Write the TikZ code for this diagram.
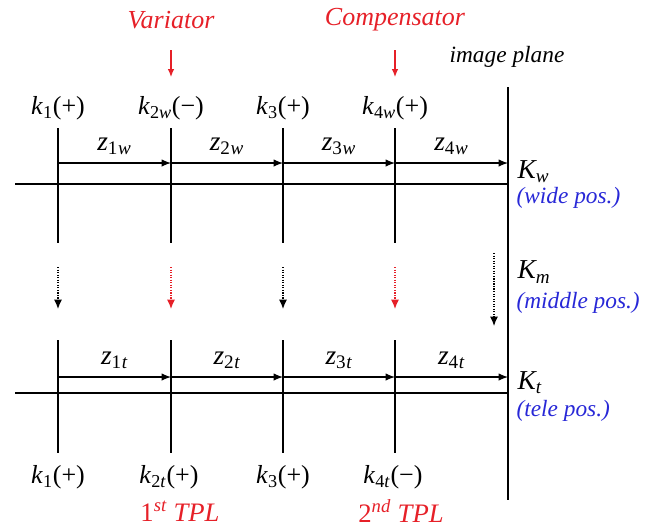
\documentclass[tikz,border=0pt]{standalone}
\usepackage{fontspec}
\setmainfont{Liberation Serif}
\newfontfamily\tnr{Liberation Serif}
\usetikzlibrary{arrows.meta, positioning}
\definecolor{tred}{RGB}{230,32,40}
\definecolor{tblue}{RGB}{40,40,215}
\newcommand{\lsub}[1]{\textsubscript{#1}}

\begin{document}
\begin{tikzpicture}[x=0.75pt, y=-0.75pt,
  lbl/.style={font=\tnr\fontsize{17.5}{19}\selectfont\itshape, inner sep=1pt},
  uplbl/.style={lbl, font=\tnr\fontsize{19.5}{21}\selectfont},
  biglbl/.style={lbl, font=\tnr\fontsize{20.5}{22}\selectfont\itshape},
  poslbl/.style={lbl, text=tblue, anchor=west},
  redlbl/.style={lbl, text=tred, font=\tnr\fontsize{19.5}{21}\selectfont\itshape},
  lens/.style={line width=0.9pt},
  zarr/.style={-{Latex[length=7pt,width=5.5pt]}, line width=0.9pt},
  moveblk/.style={-{Latex[length=7pt,width=6pt]}, densely dotted, line width=0.9pt},
  movered/.style={moveblk, draw=tred, -{Latex[length=7pt,width=6pt,fill=tred]}},
  redarr/.style={-{Latex[length=6pt,width=5pt]}, draw=tred, line width=0.9pt}
]
  \useasboundingbox (0,0) rectangle (659,529);

  % group names and image plane
  \node[redlbl] (var) at (171,20) {Variator};
  \node[redlbl] (com) at (395,20) {Compensator};
  \coordinate (vartip) at (171,77);
  \coordinate (comtip) at (395,77);
  \draw[redarr] (171,50) -- (vartip);
  \draw[redarr] (395,50) -- (comtip);
  \node[lbl] (ipl) at (507,57) {image plane};
  \draw[lens] (508,87) -- (508,500);

  % wide position
  \node[uplbl] (k1w) at (58,108) {\textit{k}\lsub{1}(+)};
  \node[uplbl] (k2w) at (171,108) {\textit{k}\lsub{2\textit{w}}(−)};
  \node[uplbl] (k3w) at (283,108) {\textit{k}\lsub{3}(+)};
  \node[uplbl] (k4w) at (395,108) {\textit{k}\lsub{4\textit{w}}(+)};
  \draw[lens] (58,128) -- (58,243);
  \draw[lens] (171,128) -- (171,243);
  \draw[lens] (283,128) -- (283,243);
  \draw[lens] (395,128) -- (395,243);
  \draw[lens] (15,184) -- (508,184);
  \coordinate (w1) at (58,163);
  \coordinate (w2) at (171,163);
  \coordinate (w3) at (283,163);
  \coordinate (w4) at (395,163);
  \coordinate (w5) at (508,163);
  \draw[zarr] (w1) -- (w2) node[biglbl, midway, above=5pt] (z1w) {z\lsub{\upshape 1}\lsub{w}};
  \draw[zarr] (w2) -- (w3) node[biglbl, midway, above=5pt] (z2w) {z\lsub{\upshape 2}\lsub{w}};
  \draw[zarr] (w3) -- (w4) node[biglbl, midway, above=5pt] (z3w) {z\lsub{\upshape 3}\lsub{w}};
  \draw[zarr] (w4) -- (w5) node[biglbl, midway, above=5pt] (z4w) {z\lsub{\upshape 4}\lsub{w}};
  \node[biglbl, anchor=west] (Kw) at (516,172) {K\lsub{w}};
  \node[poslbl] (wide) at (515,198) {(wide pos.)};

  % middle position
  \draw[moveblk] (58,267) -- (58,309);
  \draw[movered] (171,267) -- (171,309);
  \draw[moveblk] (283,267) -- (283,309);
  \draw[movered] (395,267) -- (395,309);
  \draw[moveblk] (494,253) -- (494,326);
  \node[biglbl, anchor=west] (Km) at (516,272) {K\lsub{m}};
  \node[poslbl] (middle) at (515,303) {(middle pos.)};

  % tele position
  \draw[lens] (58,340) -- (58,453);
  \draw[lens] (171,340) -- (171,453);
  \draw[lens] (283,340) -- (283,453);
  \draw[lens] (395,340) -- (395,453);
  \draw[lens] (15,393) -- (508,393);
  \coordinate (t1) at (58,377);
  \coordinate (t2) at (171,377);
  \coordinate (t3) at (283,377);
  \coordinate (t4) at (395,377);
  \coordinate (t5) at (508,377);
  \draw[zarr] (t1) -- (t2) node[biglbl, midway, above=5pt] (z1t) {z\lsub{\upshape 1}\lsub{t}};
  \draw[zarr] (t2) -- (t3) node[biglbl, midway, above=5pt] (z2t) {z\lsub{\upshape 2}\lsub{t}};
  \draw[zarr] (t3) -- (t4) node[biglbl, midway, above=5pt] (z3t) {z\lsub{\upshape 3}\lsub{t}};
  \draw[zarr] (t4) -- (t5) node[biglbl, midway, above=5pt] (z4t) {z\lsub{\upshape 4}\lsub{t}};
  \node[biglbl, anchor=west] (Kt) at (516,383) {K\lsub{t}};
  \node[poslbl] (tele) at (515,411) {(tele pos.)};
  \node[uplbl] (k1t) at (58,477) {\textit{k}\lsub{1}(+)};
  \node[uplbl] (k2t) at (169,477) {\textit{k}\lsub{2\textit{t}}(+)};
  \node[uplbl] (k3t) at (283,477) {\textit{k}\lsub{3}(+)};
  \node[uplbl] (k4t) at (393,477) {\textit{k}\lsub{4\textit{t}}(−)};
  \node[redlbl, font=\tnr\fontsize{20}{22}\selectfont] (tpl1) at (180,511) {1\textsuperscript{\itshape st} \textit{TPL}};
  \node[redlbl, font=\tnr\fontsize{20}{22}\selectfont] (tpl2) at (401,511) {2\textsuperscript{\itshape nd} \textit{TPL}};
\end{tikzpicture}
\end{document}
